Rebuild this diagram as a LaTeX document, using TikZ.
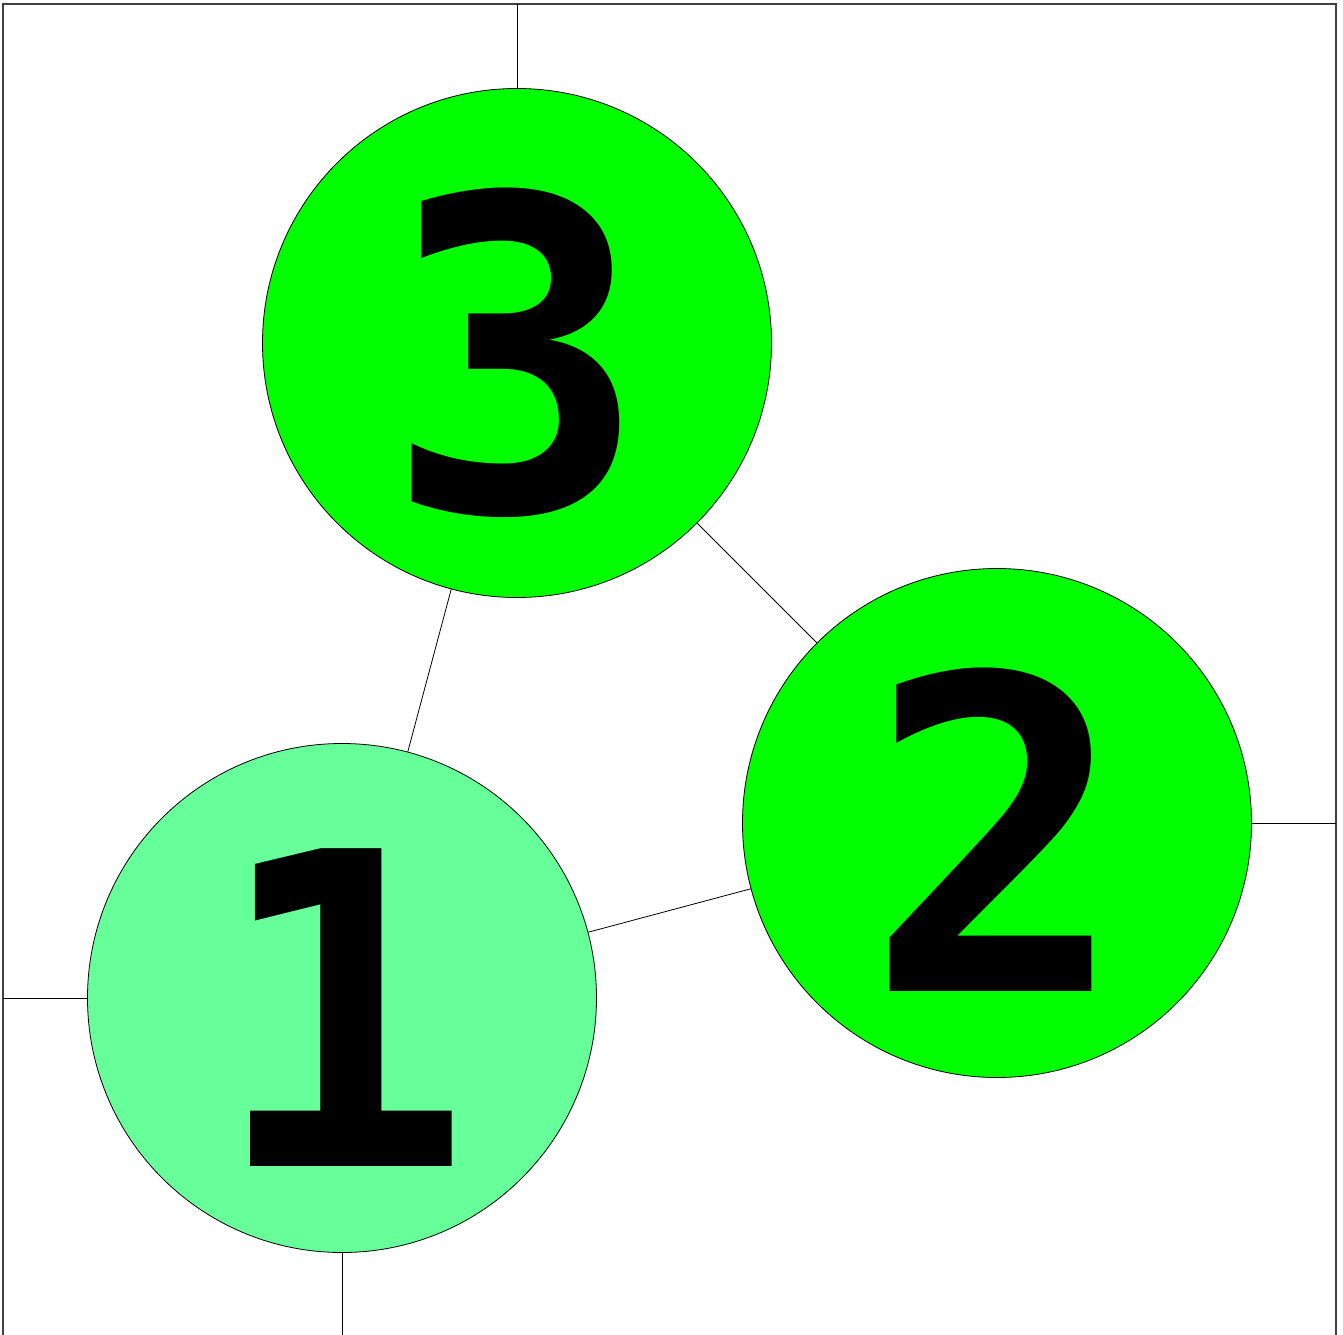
\documentclass[tikz,border=0pt]{standalone}
\usepackage{fontspec}
\newfontfamily\digitfont{DejaVu Sans Mono}
\definecolor{lightgreen}{HTML}{66FF99}
\definecolor{puregreen}{HTML}{00FF00}
\begin{document}
\begin{tikzpicture}[x=0.75pt,y=-0.75pt,
  vertex/.style={circle,draw=black,line width=0.6pt,minimum size=381.75pt,inner sep=0pt,
    font=\digitfont\bfseries\fontsize{327pt}{327pt}\selectfont,text height=253pt,text depth=0pt},
  edge/.style={draw=black,line width=0.6pt},
  frame/.style={draw=black!75,line width=1pt}]
\useasboundingbox (0,0) rectangle (1343,1335);
\draw[frame] (3,1340) -- (3,4) -- (1336,4) -- (1336,1340);
\node[vertex,fill=puregreen] (n3) at (517,343) {3};
\node[vertex,fill=puregreen] (n2) at (997,823) {2};
\node[vertex,fill=lightgreen] (n1) at (342,998) {1};
\coordinate (t3) at (517,4);
\coordinate (r2) at (1336,823);
\coordinate (l1) at (3,998);
\coordinate (b1) at (342,1340);
\draw[edge] (n3) -- (n1);
\draw[edge] (n3) -- (n2);
\draw[edge] (n1) -- (n2);
\draw[edge] (n3) -- (t3);
\draw[edge] (n2) -- (r2);
\draw[edge] (n1) -- (l1);
\draw[edge] (n1) -- (b1);
\end{tikzpicture}
\end{document}
